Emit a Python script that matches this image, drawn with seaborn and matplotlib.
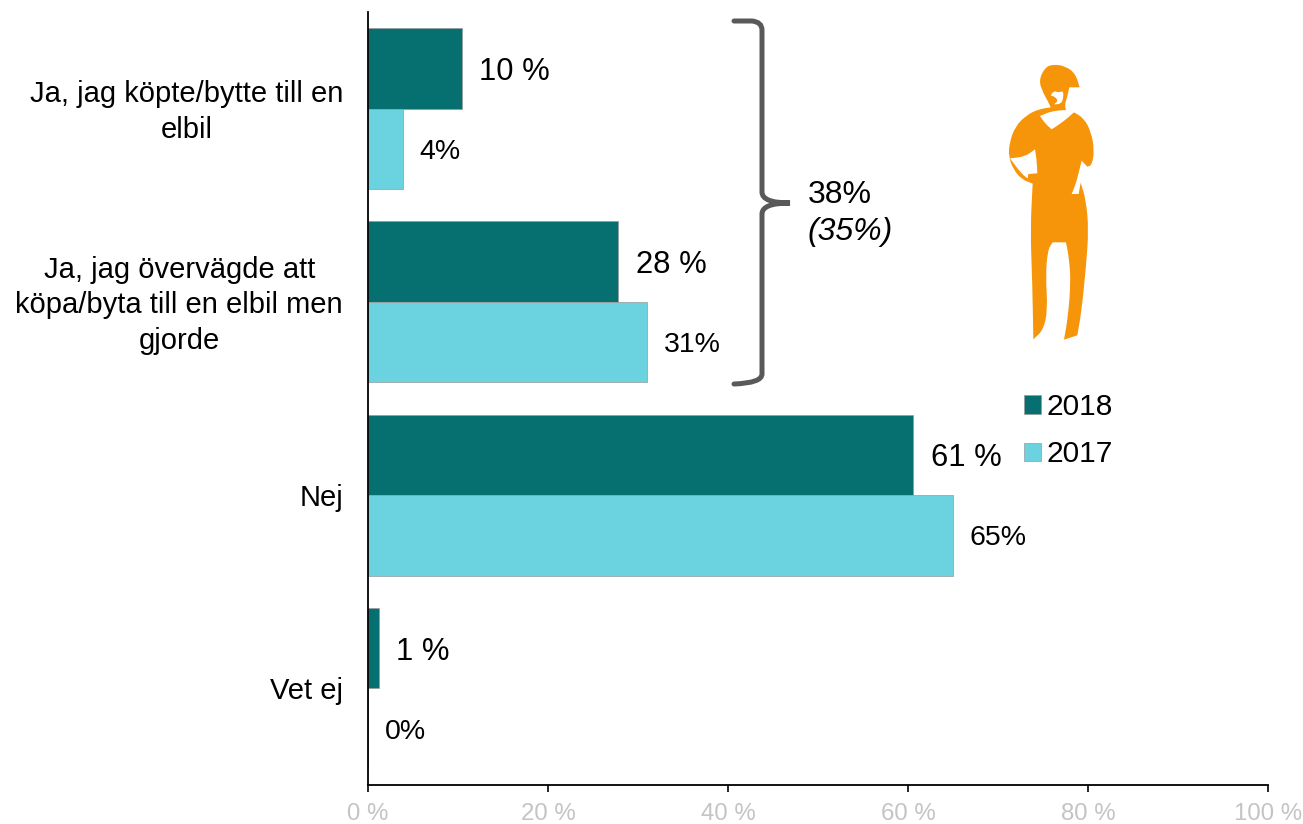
import matplotlib
matplotlib.use("Agg")
import matplotlib.pyplot as plt
import pandas as pd
import seaborn as sns
from matplotlib.patches import PathPatch
from matplotlib.path import Path
from matplotlib.transforms import ScaledTranslation

W, H = 1303, 824

categories = [
    "Ja, jag köpte/bytte till en\nelbil",
    "Ja, jag övervägde att\nköpa/byta till en elbil men\ngjorde",
    "Nej",
    "Vet ej",
]
years = ["2018", "2017"]
values_2018 = [10.4, 27.8, 60.6, 1.2]
values_2017 = [3.9, 31.0, 65.0, 0.0]
labels_2018 = ["10 %", "28 %", "61 %", "1 %"]
labels_2017 = ["4%", "31%", "65%", "0%"]
x_ticks = [0, 20, 40, 60, 80, 100]

sns.set_theme(style="ticks")
plt.rcParams["font.family"] = ["Liberation Sans", "DejaVu Sans"]

df = pd.DataFrame({
    "category": categories * 2,
    "year": [years[0]] * 4 + [years[1]] * 4,
    "value": values_2018 + values_2017,
})

fig = plt.figure(figsize=(W / 100, H / 100), dpi=100)
ax = fig.add_axes([368 / W, 1 - 785 / H, 900 / W, 773 / H])

sns.barplot(data=df, y="category", x="value", hue="year", order=categories, hue_order=years,
            palette=["#066F6F", "#6BD3DF"], width=0.834, gap=0, saturation=1,
            edgecolor="#9a9a9a", linewidth=0.5, ax=ax)

ax.set_xlim(0, 100)
ax.set_ylim(3.5, -0.5)
ax.set_xlabel("")
ax.set_ylabel("")
ax.set_xticks(x_ticks)
ax.set_xticklabels([f"{t} %" for t in x_ticks], color="#c4c4c4", fontsize=17.3)
ax.tick_params(axis="x", length=5, width=1.2, color="black", pad=8)
ax.tick_params(axis="y", length=0, pad=18, labelsize=21, labelcolor="black")
for lab in ax.get_yticklabels():
    lab.set_multialignment("center")
    lab.set_linespacing(1.35)
    if "\n" in lab.get_text():
        # wrapped labels sit a little high in the reference
        lab.set_transform(lab.get_transform() + ScaledTranslation(0, 2.5 / 72, fig.dpi_scale_trans))
sns.despine(ax=ax)
for side in ["left", "bottom"]:
    ax.spines[side].set_linewidth(1.3)
    ax.spines[side].set_color("black")

texts = ax.bar_label(ax.containers[0], labels=labels_2018, padding=12.5, fontsize=22.3, color="black")
texts += ax.bar_label(ax.containers[1], labels=labels_2017, padding=12, fontsize=20.5, color="black")
for t in texts:
    t.set_va("center_baseline")

handles, _ = ax.get_legend_handles_labels()
ax.legend(handles, years, loc="upper left", bbox_to_anchor=(1024 / W, 1 - 393 / H),
          bbox_transform=fig.transFigure, frameon=False, fontsize=21.5, handlelength=0.56,
          handleheight=0.56, handletextpad=0.2, labelspacing=0.65, borderpad=0, borderaxespad=0,
          labelcolor="black")


def px(x, y):
    return (x / W, 1 - y / H)


# bracket, in picture pixels
M, L, C = Path.MOVETO, Path.LINETO, Path.CURVE3
bracket = [
    ((734, 21), M), ((752, 21), L), ((762, 22), C), ((762, 30), C), ((762, 192), L),
    ((762, 203), C), ((790, 203), C), ((762, 203), C), ((762, 214), C),
    ((762, 374), L), ((762, 383), C), ((734, 384), C),
]
verts = [px(*p) for p, _ in bracket]
codes = [c for _, c in bracket]
fig.add_artist(PathPatch(Path(verts, codes), fill=False, edgecolor="#595959", linewidth=3.6,
                         capstyle="round", transform=fig.transFigure))
fig.text(808 / W, 1 - 195 / H, "38%", fontsize=23, va="center", ha="left", color="black")
fig.text(808 / W, 1 - 232 / H, "(35%)", fontsize=23, va="center", ha="left", style="italic", color="black")

# orange figure (crop offset 980,50 at 3x); a doubled point stays sharp
outline = [
    (176, 92), (195, 52), (220, 43), (255, 48), (286, 70), (299, 112), (299, 112),
    (268, 112), (268, 112), (262, 140), (254, 165), (258, 180), (258, 180), (215, 183), (180, 198), (180, 198),
    (195, 220), (215, 238), (215, 238), (250, 215), (282, 187), (282, 187), (312, 205), (333, 245),
    (343, 300), (336, 345), (322, 350), (322, 350), (305, 332), (305, 332), (298, 360), (288, 400),
    (275, 432), (275, 432), (296, 432), (296, 432), (302, 398), (302, 398), (318, 450), (326, 540),
    (318, 650), (305, 780), (292, 856), (292, 856), (252, 869), (252, 869), (264, 800), (272, 700),
    (268, 630), (258, 577), (258, 577), (218, 577), (218, 577), (203, 600), (197, 680), (203, 780),
    (190, 840), (160, 868), (160, 868), (157, 700), (151, 540), (158, 401), (158, 401), (125, 388),
    (100, 358), (86, 320), (88, 280), (105, 230), (140, 195), (175, 178), (212, 172), (212, 172),
    (206, 158), (190, 130),
]
sleeve = [(90, 325), (90, 325), (125, 372), (143, 385), (143, 385), (145, 372), (145, 372), (172, 370),
          (172, 370), (170, 330), (165, 298), (165, 298), (135, 320)]
mouth = [(210, 138), (222, 138), (235, 152), (222, 163), (222, 163), (243, 162), (250, 145), (250, 122),
         (235, 128), (222, 122)]


def smooth(points):
    # quadratic spline through the midpoints of the traced points
    pts = [px(980 + x / 3, 50 + y / 3) for x, y in points]
    mids = [((a[0] + b[0]) / 2, (a[1] + b[1]) / 2) for a, b in zip(pts, pts[1:] + pts[:1])]
    v, c = [mids[-1]], [M]
    for p, m in zip(pts, mids):
        v += [p, m]
        c += [C, C]
    return v, c


v1, c1 = smooth(outline)
v2, c2 = smooth(sleeve)
v3, c3 = smooth(mouth)
fig.add_artist(PathPatch(Path(v1 + v2 + v3, c1 + c2 + c3), facecolor="#F7950A", edgecolor="none",
                         transform=fig.transFigure))

fig.savefig("out.png", dpi=100)
